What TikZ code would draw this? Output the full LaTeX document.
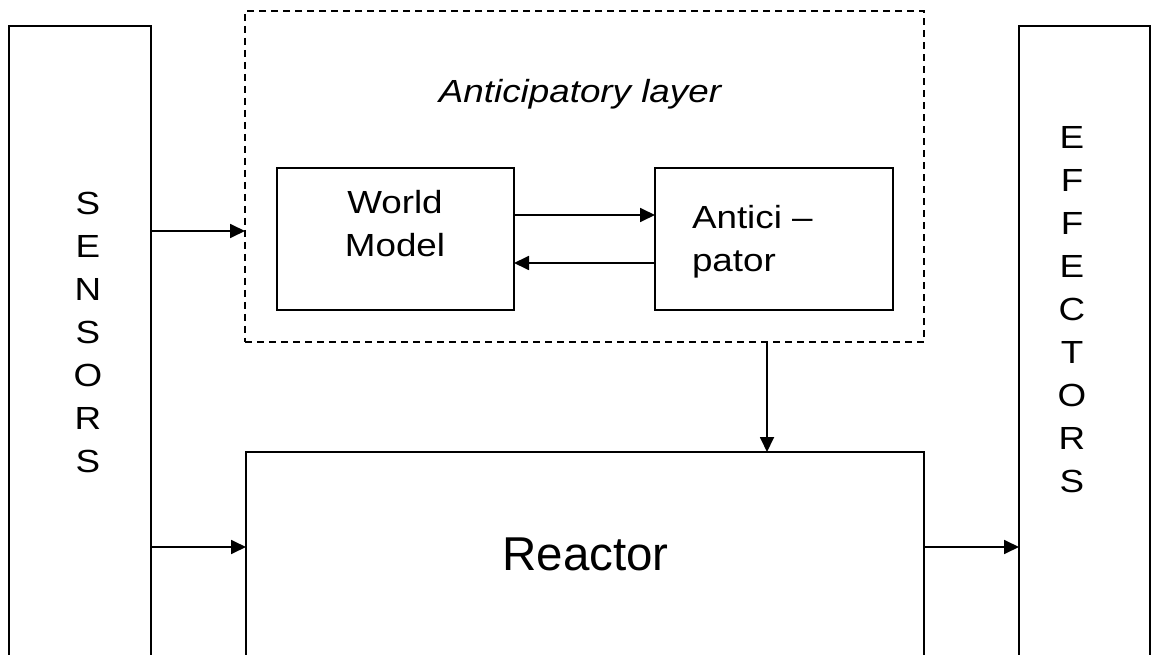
\documentclass[tikz,border=0pt]{standalone}
\usepackage{fontspec}
\setmainfont{Liberation Sans}[FakeStretch=1.15]
\newfontfamily\plainsans{Liberation Sans}
\usetikzlibrary{arrows.meta}
\begin{document}
\begin{tikzpicture}[x=1pt, y=-1pt,
  box/.style={draw, line width=2pt, inner sep=0pt, outer sep=0pt, anchor=north west},
  layerbox/.style={box, line width=1.8pt, dash pattern=on 7pt off 5pt},
  arr/.style={line width=1.8pt, -{Triangle[length=15pt, width=14pt]}},
  lbl/.style={font=\fontsize{32}{43}\selectfont, inner sep=0pt, outer sep=0pt}]
\useasboundingbox (0,0) rectangle (1160,655);
\clip (0,0) rectangle (1160,655);

% side columns (open at the bottom)
\node[box, minimum width=142pt, minimum height=700pt] (sensors) at (9,26) {};
\node[box, minimum width=131pt, minimum height=700pt] (effectors) at (1019,26) {};

% anticipatory layer and its two modules
\node[layerbox, minimum width=679pt, minimum height=331pt] (layer) at (245,11) {};
\node[box, minimum width=237pt, minimum height=142pt] (world) at (277,168) {};
\node[box, minimum width=238pt, minimum height=142pt] (antic) at (655,168) {};

% reactor (open at the bottom)
\node[box, minimum width=678pt, minimum height=300pt] (reactor) at (246,452) {};

% labels
\node[lbl, align=center, anchor=north] (sensorsTxt) at (88,192) {S\\E\\N\\S\\O\\R\\S};
\node[lbl, align=center, anchor=north] (effectorsTxt) at (1072,126) {E\\F\\F\\E\\C\\T\\O\\R\\S};
\node[lbl, anchor=base, font=\fontsize{32}{43}\selectfont\itshape] (layerTxt) at (580,103) {Anticipatory layer};
\node[lbl, align=center, anchor=north] (worldTxt) at (395,190) {World\\Model};
\node[lbl, align=left, anchor=north west] (anticTxt) at (692,205) {Antici –\\pator};
\node[anchor=base, inner sep=0pt, font=\plainsans\fontsize{47.5}{50}\selectfont] (reactorTxt) at (585.5,570) {Reactor};

% connectors
\draw[arr] (sensors.east |- 0,231) -- (layer.west |- 0,231);
\draw[arr] (sensors.east |- 0,547) -- (reactor.west |- 0,547);
\draw[arr] (reactor.east |- 0,547) -- (effectors.west |- 0,547);
\draw[arr] (world.east |- 0,215) -- (antic.west |- 0,215);
\draw[arr] (antic.west |- 0,263) -- (world.east |- 0,263);
\draw[arr] (layer.south -| 767,0) -- (reactor.north -| 767,0);
\end{tikzpicture}
\end{document}
